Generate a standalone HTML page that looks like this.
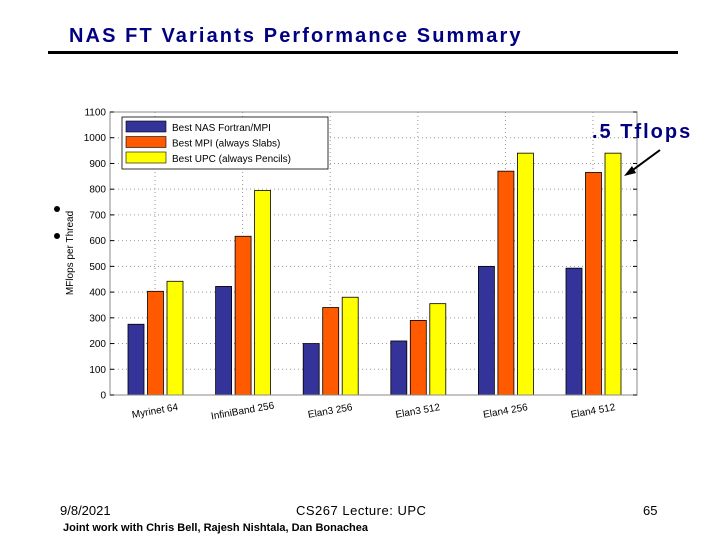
<!DOCTYPE html>
<html><head><meta charset="utf-8"><style>
body{margin:0;background:#fff;}
#wrap{position:relative;width:720px;height:540px;overflow:hidden;font-family:"Liberation Sans",sans-serif;}
.abs{position:absolute;}
</style></head><body>
<div id="wrap">
<div class="abs" style="left:69px;top:25px;font-size:20px;font-weight:bold;color:#000080;letter-spacing:2.1px;">NAS FT Variants Performance Summary</div>
<div class="abs" style="left:48px;top:51px;width:630px;height:3px;background:#000;"></div>
<div class="abs" style="left:54px;top:206px;width:6px;height:6px;border-radius:3px;background:#000;"></div>
<div class="abs" style="left:54px;top:233px;width:6px;height:6px;border-radius:3px;background:#000;"></div>
<svg class="abs" style="left:0;top:0" width="720" height="540" id="chart"></svg>
<div class="abs" style="left:60px;top:503px;font-size:13px;">9/8/2021</div>
<div class="abs" style="left:296px;top:503px;font-size:13px;letter-spacing:0.5px;">CS267 Lecture: UPC</div>
<div class="abs" style="left:643px;top:503px;font-size:13px;">65</div>
<div class="abs" style="left:63px;top:522px;font-size:11px;font-weight:bold;">Joint work with Chris Bell, Rajesh Nishtala, Dan Bonachea</div>
</div>
<script>
const categories=["Myrinet 64","InfiniBand 256","Elan3 256","Elan3 512","Elan4 256","Elan4 512"];
const seriesNames=["Best NAS Fortran/MPI","Best MPI (always Slabs)","Best UPC (always Pencils)"];
const fortranVals=[275,422,200,210,500,493];
const mpiVals=[403,617,340,290,870,865];
const upcVals=[442,795,380,355,940,940];
const yTicks=[0,100,200,300,400,500,600,700,800,900,1000,1100];
const colors=["#333399","#ff5a00","#ffff00"];
const NS="http://www.w3.org/2000/svg";
const svg=document.getElementById('chart');
const L=110,R=637,T=112,B=395,YMAX=1100;
const y=v=>B-(v/YMAX)*(B-T);
const x=i=>155+i*87.6;
function mk(t,a){const e=document.createElementNS(NS,t);for(const k in a)e.setAttribute(k,a[k]);svg.appendChild(e);return e;}
yTicks.forEach(v=>{if(v>0&&v<YMAX){const g=mk('line',{x1:L,x2:R,y1:y(v),y2:y(v),stroke:'#999','stroke-dasharray':'1,3'});

}});
categories.forEach((c,i)=>{const g=mk('line',{x1:x(i),x2:x(i),y1:T,y2:B,stroke:'#999','stroke-dasharray':'1,3'});

});
[fortranVals,mpiVals,upcVals].forEach((s,si)=>{s.forEach((v,i)=>{
const bx=x(i)-27+si*19.5;
const r=mk('rect',{x:bx,y:y(v),width:16,height:B-y(v),fill:colors[si],stroke:'#000','stroke-width':0.8});

});});
const box=mk('rect',{x:L,y:T,width:R-L,height:B-T,fill:'none',stroke:'#888'});


yTicks.forEach(v=>{
const tl=mk('text',{x:L-4,y:y(v)+3.5,'text-anchor':'end','font-size':10,fill:'#000'});tl.textContent=v;


mk('line',{x1:L,x2:L+4,y1:y(v),y2:y(v),stroke:'#000'});
mk('line',{x1:R-4,x2:R,y1:y(v),y2:y(v),stroke:'#000'});});
categories.forEach((c,i)=>{
const t=mk('text',{x:x(i),y:B+19,'text-anchor':'middle','font-size':10,transform:`rotate(-10 ${x(i)} ${B+16})`});t.textContent=c;

});
const yt=mk('text',{x:73,y:253,'text-anchor':'middle','font-size':10,transform:'rotate(-90 73 253)'});yt.textContent='MFlops per Thread';


const lg=mk('rect',{x:122,y:117,width:206,height:52,fill:'#fff',stroke:'#000','stroke-width':0.8});


seriesNames.forEach((n,i)=>{
mk('rect',{x:126,y:121+i*15.5,width:40,height:11,fill:colors[i],stroke:'#000','stroke-width':0.6});
const t=mk('text',{x:172,y:131+i*15.5,'font-size':10});t.textContent=n;

});
const an=mk('text',{x:592,y:138,'font-size':20,'font-weight':'bold',fill:'#000080','letter-spacing':2});an.textContent='.5 Tflops';


const ar=mk('line',{x1:660,y1:150,x2:630,y2:172,stroke:'#000','stroke-width':2});


mk('polygon',{points:'624,176 632,166 636,173',fill:'#000'});
</script>
</body></html>
